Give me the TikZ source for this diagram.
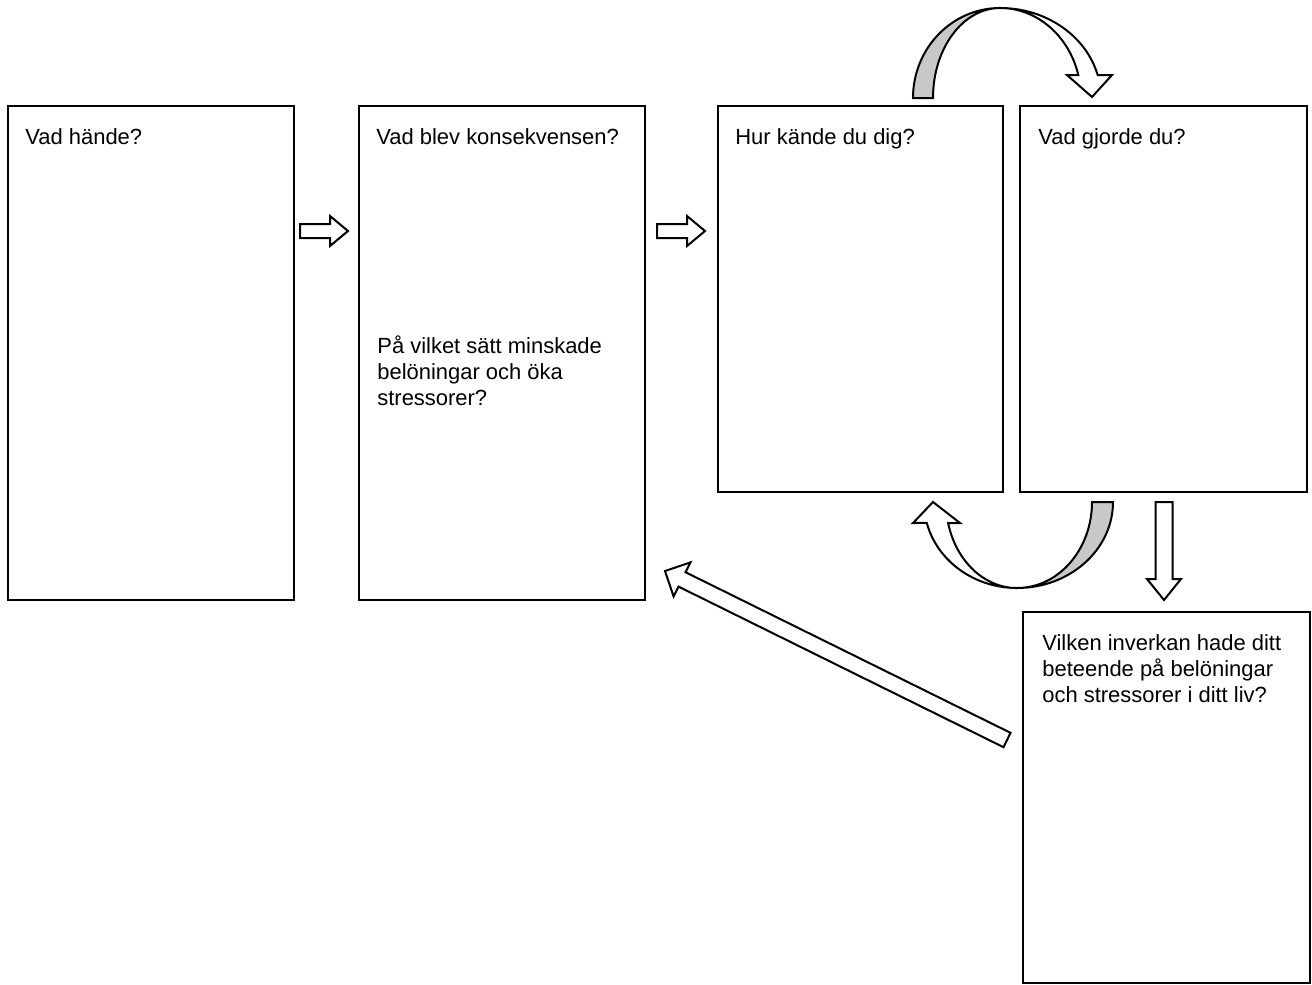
\documentclass[tikz,border=0pt]{standalone}
\usepackage{fontspec}
\setmainfont{Liberation Sans}
\usetikzlibrary{calc}
\definecolor{ribbongray}{RGB}{200,200,200}
%% block arrow: tail, tip, half shaft, half head, head length
\newcommand{\blockarrow}[5]{%
  \coordinate (ba-h) at ($(#2)!#5!(#1)$);
  \path[arrowdecorate] ($(#1)!#3!90:(#2)$) -- ($(ba-h)!#3!90:(#2)$)
    -- ($(ba-h)!#4!90:(#2)$) -- (#2) -- ($(ba-h)!#4!-90:(#2)$)
    -- ($(ba-h)!#3!-90:(#2)$) -- ($(#1)!#3!-90:(#2)$) -- cycle;}
\begin{document}
\begin{tikzpicture}
[x=0.02cm,y=-0.02cm,
  boxdecorate/.style={shape=rectangle,draw,line width=0.04cm,outer sep=0pt,inner sep=0pt},
  textdecorate/.style={anchor=north west,inner sep=0pt,align=left,
    font=\fontsize{12.5pt}{14.8pt}\selectfont},
  arrowdecorate/.style={draw,fill=white,line width=0.04cm},
  ribbondecorate/.style={draw,fill=ribbongray,line width=0.04cm}]
\useasboundingbox (0,0) rectangle (1312,984);
%% boxes
\foreach \nodename/\x/\y/\w/\h in {
  box1/151/353/286/494, box2/502/353/286/494, box3/860.5/299/285/386,
  box4/1163.5/299/287/386, box5/1166.5/797.5/287/371} {
  \node (\nodename) at (\x,\y) [boxdecorate,minimum width=\w*0.02cm,minimum height=\h*0.02cm] {};
}
%% questions
\foreach \nodename/\boxname/\dx/\dy/\question in {
  q1/box1/17/22/{Vad hände?}, q2/box2/17/22/{Vad blev konsekvensen?},
  q3/box3/17/22/{Hur kände du dig?}, q4/box4/18/22/{Vad gjorde du?},
  q5/box2/18/229/{På vilket sätt minskade\\belöningar och öka\\stressorer?},
  q6/box5/19/22/{Vilken inverkan hade ditt\\beteende på belöningar\\och stressorer i ditt liv?}} {
  \node (\nodename) [textdecorate] at ($(\boxname.north west)+(\dx,\dy)$) {\question};
}
%% straight arrows
\foreach \arrowname/\tx/\ty/\hx/\hy/\shaft/\head/\len in {
  r1/300/231/348/231/0.14cm/0.30cm/0.36cm, r2/657/231/705/231/0.14cm/0.30cm/0.36cm,
  d1/1164/502/1164/600/0.17cm/0.34cm/0.42cm, b1/1007/740/665/571/0.16cm/0.38cm/0.38cm} {
  \coordinate (\arrowname-tail) at (\tx,\ty);
  \coordinate (\arrowname-tip) at (\hx,\hy);
  \blockarrow{\arrowname-tail}{\arrowname-tip}{\shaft}{\head}{\len}
}
%% curved arrow over box3 and box4
\path[ribbondecorate] (913,98) arc[start angle=180,end angle=270,x radius=87,y radius=90]
  arc[start angle=270,end angle=180,x radius=67,y radius=90] -- cycle;
\path[arrowdecorate] (1000,8) arc[start angle=270,end angle=345.2,x radius=101,y radius=90]
  -- (1112,75) -- (1092,97) -- (1067,75) -- (1078.3,75)
  arc[start angle=345.2,end angle=270,x radius=81,y radius=90] -- cycle;
%% curved arrow under box3 and box4
\path[ribbondecorate] (1113,502) arc[start angle=0,end angle=90,x radius=96,y radius=86]
  arc[start angle=90,end angle=0,x radius=75,y radius=86] -- cycle;
\path[arrowdecorate] (1017,588) arc[start angle=90,end angle=165.9,x radius=93,y radius=86]
  -- (913,523) -- (933,502) -- (960,523) -- (948.1,523)
  arc[start angle=165.9,end angle=90,x radius=71,y radius=86] -- cycle;
\end{tikzpicture}
\end{document}
